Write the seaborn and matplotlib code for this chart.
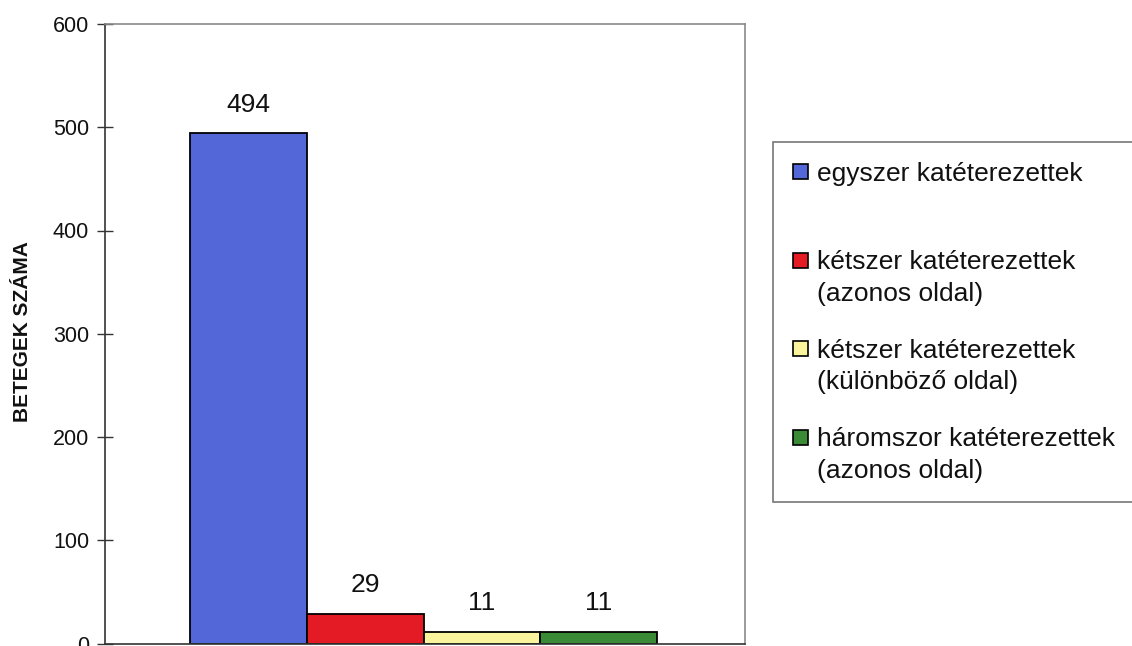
import matplotlib
matplotlib.use("Agg")
import matplotlib.pyplot as plt
import seaborn as sns
import pandas as pd
from matplotlib.patches import Rectangle
from matplotlib.offsetbox import (AnchoredOffsetbox, DrawingArea, TextArea,
                                  HPacker, VPacker)

# Patient groups by number of catheterisations
series = [
    "egyszer katéterezettek",
    "kétszer katéterezettek\n(azonos oldal)",
    "kétszer katéterezettek\n(különböző oldal)",
    "háromszor katéterezettek\n(azonos oldal)",
]
counts = [494, 29, 11, 11]
colors = ["#5467d8", "#e41b24", "#faf59c", "#3b8a35"]
y_ticks = [0, 100, 200, 300, 400, 500, 600]
y_label = "BETEGEK SZÁMA"

sns.set_style("white")
plt.rcParams["font.family"] = ["Liberation Sans", "DejaVu Sans"]

df = pd.DataFrame({"group": [""] * len(series), "series": series, "count": counts})

fig = plt.figure(figsize=(11.32, 6.46), dpi=100)
ax = fig.add_axes([105 / 1132, 1 - 643.5 / 646, 640 / 1132, 619.5 / 646])

sns.barplot(data=df, x="group", y="count", hue="series", hue_order=series,
            palette=colors, saturation=1, width=0.8, edgecolor="black",
            linewidth=1.3, legend=False, ax=ax)

for cont in ax.containers:
    ax.bar_label(cont, fmt="%d", padding=12, fontsize=19, color="#111111")

ax.set_xlim(-0.5456, 0.5507)
ax.set_ylim(0, 600)
ax.set_yticks(y_ticks)
ax.set_xlabel("")
ax.set_ylabel(y_label, fontsize=15, fontweight="bold", color="#111111")
ax.yaxis.set_label_coords(-0.114, 0.503)
ax.tick_params(axis="x", bottom=False, labelbottom=False)
ax.tick_params(axis="y", left=True, direction="inout", length=11, width=1,
               color="#333333", labelsize=15.5, pad=6, labelcolor="#111111")

for side in ("left", "bottom"):
    ax.spines[side].set_color("#333333")
    ax.spines[side].set_linewidth(1.2)
for side in ("top", "right"):
    ax.spines[side].set_color("#8a8a8a")
    ax.spines[side].set_linewidth(1.2)

# Legend: square swatch aligned with the first line of each label
fs = 19
rows = []
for name, col in zip(series, colors):
    label = name if "\n" in name else name + "\n"
    da = DrawingArea(11, 12.6, 0, 0)
    da.add_artist(Rectangle((0, 0), 10.8, 10.8, facecolor=col,
                            edgecolor="black", linewidth=1.2))
    ta = TextArea(label, textprops=dict(fontsize=fs, color="#111111",
                                        linespacing=1.38))
    rows.append(HPacker(children=[da, ta], align="top", pad=0, sep=6.5))
box = VPacker(children=rows, align="left", pad=0, sep=24)
anchored = AnchoredOffsetbox(loc="upper left", child=box, pad=0.75,
                             borderpad=0, frameon=True,
                             prop=dict(size=fs),
                             bbox_to_anchor=(773 / 1132, 1 - 142 / 646),
                             bbox_transform=fig.transFigure)
anchored.patch.set_edgecolor("#777777")
anchored.patch.set_linewidth(1.2)
anchored.patch.set_boxstyle("square", pad=0)
fig.add_artist(anchored)

fig.savefig("out.png", dpi=100)
